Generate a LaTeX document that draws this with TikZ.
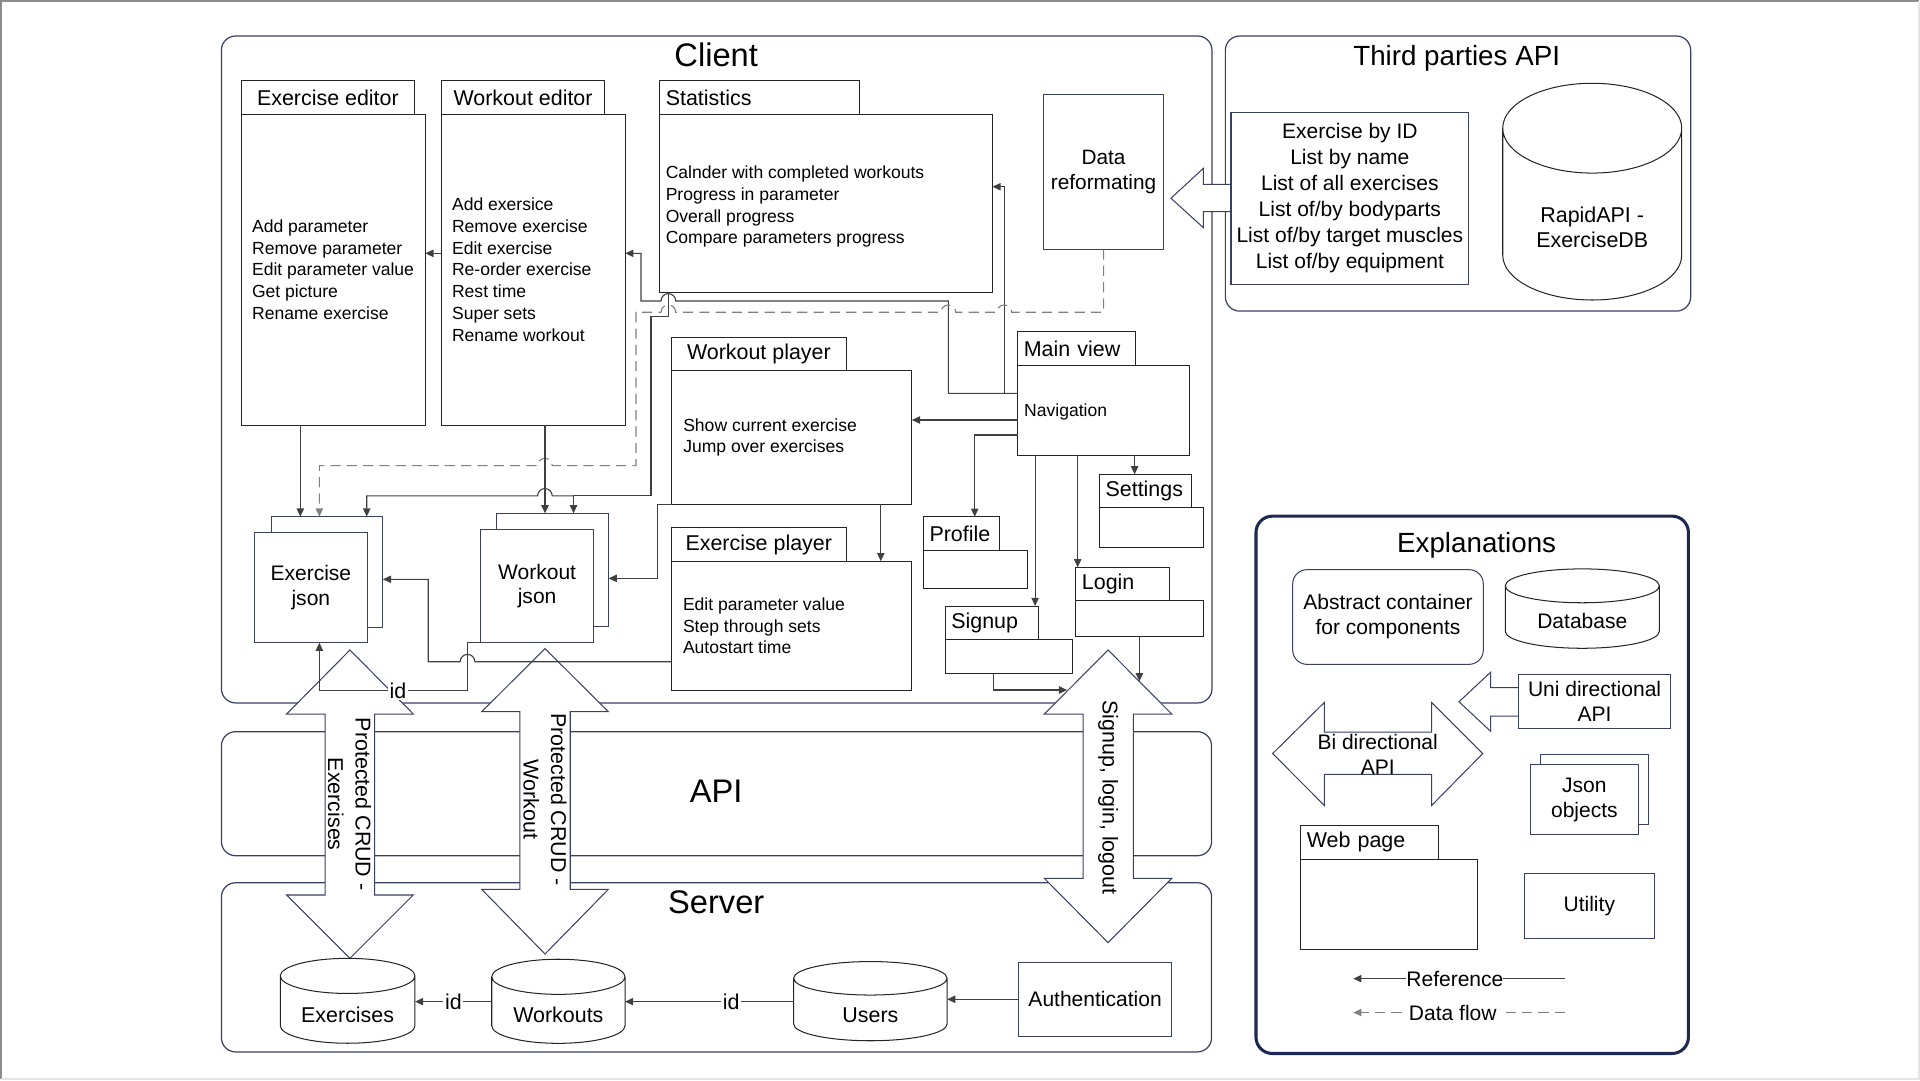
\documentclass[tikz,border=0pt]{standalone}
\usepackage{fontspec}
\setmainfont{Liberation Sans}
\usetikzlibrary{arrows.meta,positioning}

\definecolor{navy}{RGB}{58,64,98}
\definecolor{deepnavy}{RGB}{30,40,80}
\definecolor{boxline}{RGB}{36,36,40}
\definecolor{wire}{RGB}{64,64,64}
\definecolor{flow}{RGB}{128,128,128}

\newcommand{\fs}[2]{\fontsize{#1}{#2}\selectfont}
% cylinder outline round a named node: name, x radius, y radius
\newcommand{\dbcyl}[3]{%
  \draw[dbline] ([yshift=-#3]#1.north west) -- ([yshift=#3]#1.south west)
    arc[start angle=180,end angle=360,x radius=#2,y radius=#3]
    -- ([yshift=-#3]#1.north east) arc[start angle=0,end angle=360,x radius=#2,y radius=#3];}

\begin{document}
\begin{tikzpicture}[x=0.6pt,y=-0.6pt,>={Triangle[length=4pt,width=3.6pt]},
  every node/.style={inner sep=0pt,outer sep=0pt},
  container/.style={draw=navy,line width=0.6pt,rounded corners=7pt,anchor=north west},
  bigtitle/.style={anchor=base,font=\fs{16}{19}},
  midtitle/.style={anchor=base,font=\fs{13.6}{16}},
  tabl/.style={draw=boxline,line width=0.5pt,anchor=north west,minimum height=16.4pt,
    inner xsep=3pt,align=left,font=\fs{10.5}{12}},
  tabc/.style={draw=boxline,line width=0.5pt,anchor=north west,minimum height=16.4pt,
    font=\fs{10.5}{12}},
  pagebody/.style={draw=boxline,line width=0.5pt,anchor=north west},
  listtxt/.style={align=left,font=\fs{8.6}{10.7}},
  plainbox/.style={draw=navy,line width=0.5pt,anchor=north west,align=center,font=\fs{10.3}{12.2}},
  jsonbox/.style={plainbox,fill=white},
  dbbox/.style={rectangle,anchor=center},
  dbline/.style={draw=boxline,line width=0.5pt},
  dbtxt/.style={align=center,font=\fs{10.5}{12.2}},
  bigarrow/.style={draw=navy,fill=white,line width=0.5pt},
  arrtxt/.style={align=center,font=\fs{10.5}{13.5}},
  refline/.style={->,draw=wire,line width=0.55pt},
  flowline/.style={->,draw=flow,line width=0.55pt,dash pattern=on 5pt off 3pt},
  idlab/.style={fill=white,inner sep=0.8pt,font=\fs{10.5}{12}}]

  % page frame
  \useasboundingbox (0,0) rectangle (1568,882);
  \draw[black!45,line width=1pt] (1.2,880.8) -- (1.2,1) -- (1566.8,1);
  \draw[black!10,line width=1pt] (1566.8,1) -- (1566.8,880.8) -- (1.2,880.8);

  % containers
  \node[container,minimum width=485.4pt,minimum height=326.8pt] (client) at (180.8,29.4) {};
  \node[container,minimum width=228pt,minimum height=134.8pt] (third) at (1000.7,29.4) {};
  \node[container,minimum width=485.2pt,minimum height=60.8pt] (api) at (180.8,597.5) {};
  \node[container,minimum width=485.2pt,minimum height=82.9pt] (server) at (180.8,720.9) {};
  \node[container,draw=deepnavy,line width=1.5pt,rounded corners=8pt,
    minimum width=211.9pt,minimum height=263.3pt] (expl) at (1025.7,421.5) {};

  % big api arrows
  \draw[bigarrow] (285.8,530.8) -- (337.5,583.1) -- (306,583.1) -- (306,730.9) -- (337.5,730.9)
    -- (285.8,782.6) -- (234.1,730.9) -- (265.6,730.9) -- (265.6,583.1) -- (234.1,583.1) -- cycle;
  \draw[bigarrow] (445.1,529.7) -- (496.8,581.2) -- (465.7,581.2) -- (465.7,726.3) -- (496.8,726.3)
    -- (445.1,779.1) -- (393.4,726.3) -- (424.5,726.3) -- (424.5,581.2) -- (393.4,581.2) -- cycle;
  \draw[bigarrow] (904.9,530.8) -- (956.9,583.1) -- (925.5,583.1) -- (925.5,717.3) -- (956.9,717.3)
    -- (904.9,769.8) -- (852.9,717.3) -- (884.5,717.3) -- (884.5,583.1) -- (852.9,583.1) -- cycle;
  \draw[bigarrow] (1005.3,150.5) -- (982.7,150.5) -- (982.7,137.5) -- (956.3,161.9)
    -- (982.7,185.9) -- (982.7,172.9) -- (1005.3,172.9);
  \coordinate (sgarrL) at (871.5,563.5);
  \coordinate (sgarrR) at (930.5,556.4);

  % titles
  \node[bigtitle] (clienttitle) at (584.9,54.5) {Client};
  \node[midtitle] (thirdtitle) at (1189.6,53.1) {Third parties API};
  \node[bigtitle] (apititle) at (584.9,655.5) {API};
  \node[bigtitle] (servertitle) at (584.9,745.9) {Server};
  \node[midtitle] (expltitle) at (1205.9,451.5) {Explanations};

  % client pages
  \node[tabc,minimum width=84.7pt] (exedT) at (197.2,66.1) {Exercise editor};
  \node[pagebody,minimum width=90.1pt,minimum height=152.2pt] (exed) at (exedT.south west) {};
  \node[listtxt,right=5.2pt of exed.west] (exedtxt) {Add parameter\\Remove parameter\\Edit parameter value\\Get picture\\Rename exercise};

  \node[tabc,minimum width=80pt] (woedT) at (360.5,66.1) {Workout editor};
  \node[pagebody,minimum width=90.1pt,minimum height=152.2pt] (woed) at (woedT.south west) {};
  \node[listtxt,right=5.2pt of woed.west] (woedtxt) {Add exersice\\Remove exercise\\Edit exercise\\Re-order exercise\\Rest time\\Super sets\\Rename workout};

  \node[tabl,text width=91.8pt] (statT) at (538.7,66.1) {Statistics};
  \node[pagebody,minimum width=163.1pt,minimum height=87.4pt] (stat) at (statT.south west) {};
  \node[listtxt,right=3pt of stat.west,yshift=-1.5pt] (stattxt) {Calnder with completed workouts\\Progress in parameter\\Overall progress\\Compare parameters progress};

  \node[plainbox,minimum width=58.5pt,minimum height=76pt,font=\fs{10.2}{12.2}] (datar) at (852.5,77) {Data\\reformating};

  \node[tabc,minimum width=85.5pt] (wopT) at (548.5,275.5) {Workout player};
  \node[pagebody,minimum width=117.7pt,minimum height=65.3pt] (wop) at (wopT.south west) {};
  \node[listtxt,right=5.7pt of wop.west] (woptxt) {Show current exercise\\Jump over exercises};

  \node[tabc,minimum width=85.6pt] (expT) at (548.3,431) {Exercise player};
  \node[pagebody,minimum width=117.7pt,minimum height=63.2pt] (exp) at (expT.south west) {};
  \node[listtxt,right=5.7pt of exp.west] (exptxt) {Edit parameter value\\Step through sets\\Autostart time};

  \node[tabl,text width=51.5pt] (mainT) at (831.1,270.9) {Main view};
  \node[pagebody,minimum width=84.1pt,minimum height=44.1pt] (mainv) at (mainT.south west) {};
  \node[listtxt,right=3.2pt of mainv.west,yshift=-1pt] (maintxt) {Navigation};

  \node[tabl,text width=38.9pt] (setT) at (897.9,387.4) {Settings};
  \node[pagebody,minimum width=50.9pt,minimum height=19.3pt] (sett) at (setT.south west) {};
  \node[tabl,text width=31.3pt] (profT) at (754.1,422) {Profile};
  \node[pagebody,minimum width=50.9pt,minimum height=18.8pt] (prof) at (profT.south west) {};
  \node[tabl,text width=40pt] (loginT) at (878.6,463.3) {Login};
  \node[pagebody,minimum width=62.5pt,minimum height=17.3pt] (login) at (loginT.south west) {};
  \node[tabl,text width=39.8pt] (signT) at (771.9,494.9) {Signup};
  \node[pagebody,minimum width=62.5pt,minimum height=16.7pt] (sign) at (signT.south west) {};

  % json objects
  \node[jsonbox,minimum width=54.8pt,minimum height=54.2pt] (exjsb) at (221.4,421.9) {};
  \node[jsonbox,minimum width=55.4pt,minimum height=54.1pt] (exjs) at (207.7,434.7) {Exercise\\json};
  \node[jsonbox,minimum width=54.8pt,minimum height=55.6pt] (wojsb) at (405.7,419.2) {};
  \node[jsonbox,minimum width=55pt,minimum height=55.6pt] (wojs) at (392.8,432.3) {Workout\\json};

  % third parties
  \node[plainbox,minimum width=116.5pt,minimum height=84.3pt,font=\fs{10.3}{12.7}] (exlist) at (1005.3,91.7)
    {Exercise by ID\\List by name\\List of all exercises\\List of/by bodyparts\\List of/by target muscles\\List of/by equipment};
  \node[dbbox,minimum width=87.7pt,minimum height=106.2pt] (rapid) at (1300.3,156.5) {};
  \dbcyl{rapid}{43.85pt}{22pt}
  \node[dbtxt] (rapidtxt) at (1300.3,185.5) {RapidAPI -\\ExerciseDB};

  % server
  \node[dbbox,minimum width=66pt,minimum height=41.6pt] (exdb) at (283.9,817.3) {};
  \dbcyl{exdb}{33pt}{8.6pt}
  \node[dbtxt] (exdbtxt) at (283.9,829) {Exercises};
  \node[dbbox,minimum width=65.3pt,minimum height=41.2pt] (wodb) at (456,817.7) {};
  \dbcyl{wodb}{32.65pt}{8.6pt}
  \node[dbtxt] (wodbtxt) at (456,829) {Workouts};
  \node[dbbox,minimum width=75.2pt,minimum height=38.8pt] (usdb) at (710.8,817.6) {};
  \dbcyl{usdb}{37.6pt}{8.2pt}
  \node[dbtxt] (usdbtxt) at (710.8,829) {Users};
  \node[plainbox,minimum width=74.9pt,minimum height=36pt] (auth) at (831.9,786.1) {Authentication};

  % connectors in the client
  \draw[refline] (woed.west |- 0,206.9) -- (exed.east |- 0,206.9);
  \draw[refline] (mainv.west |- 0,321.2) -| (774.5,245.8) -- (551.8,245.8)
    arc[start angle=0,end angle=180,radius=3.6pt] -- (523.5,245.8) |- (woed.east |- 0,206.9);
  \draw[refline] (mainv.west |- 0,321.2) -| (820.2,152.5) -- (stat.east |- 0,152.5);
  \coordinate (statsplit) at (468.4,405);
  \draw[refline] (stat.south -| 545.8,0) |- (531.6,258.6) |- (statsplit) -- (wojsb.north -| statsplit);
  \draw[refline] (statsplit) -- (451,405) arc[start angle=0,end angle=180,radius=3.6pt]
    -- (299.5,405) -- (exjsb.north -| 299.5,0);
  \draw[flowline] (datar.south) |- (826.2,255) arc[start angle=0,end angle=180,radius=3.6pt]
    -- (780.5,255) arc[start angle=0,end angle=180,radius=3.6pt]
    -- (551.8,255) arc[start angle=0,end angle=180,radius=3.6pt]
    -- (519.4,255) |- (451,380.3) arc[start angle=0,end angle=180,radius=3.6pt]
    -- (260.8,380.3) -- (exjsb.north -| 260.8,0);
  \draw[refline] (exed.south -| 245.3,0) -- (exjsb.north -| 245.3,0);
  \draw[refline] (woed.south -| 445.1,0) -- (wojsb.north -| 445.1,0);
  \draw[refline] (wop.south west) -| (537.2,472.3) -- (wojsb.east |- 0,472.3);
  \draw[refline] (exp.west |- 0,540.4) -- (387.8,540.4) arc[start angle=0,end angle=180,radius=3.6pt]
    -- (349.7,540.4) |- (exjsb.east |- 0,473.1);
  \draw[refline] (wojs.south west) -| (381.8,564) -- node[idlab,pos=0.47] {id} (260.8,564)
    -- (exjs.south -| 260.8,0);
  \draw[refline] (mainv.west |- 0,343) -- (wop.east |- 0,343);
  \draw[refline] (mainv.west |- 0,355.2) -| (profT.north -| 796,0);
  \draw[refline] (mainv.south -| 845.3,0) -- (signT.north -| 845.3,0);
  \draw[refline] (mainv.south -| 880.1,0) -- (loginT.north -| 880.1,0);
  \draw[refline] (mainv.south -| 926.6,0) -- (setT.north -| 926.6,0);
  \draw[refline] (wop.south -| 719.3,0) -- (exp.north -| 719.3,0);
  \draw[refline] (sign.south -| 811.2,0) |- (sgarrL);
  \draw[refline] (login.south -| 930.5,0) -- (sgarrR);

  % connectors in the server
  \draw[refline] (wodb.west |- 0,818) -- node[idlab] {id} (exdb.east |- 0,818);
  \draw[refline] (usdb.west |- 0,818) -- node[idlab,pos=0.37] {id} (wodb.east |- 0,818);
  \draw[refline] (auth.west) -- (usdb.east |- auth.west);

  % arrow labels
  \node[arrtxt,rotate=-90] (crudex) at (285.4,656.8) {Protected CRUD -\\Exercises};
  \node[arrtxt,rotate=-90] (crudwo) at (445.1,653) {Protected CRUD -\\Workout};
  \node[arrtxt,rotate=-90] (authapi) at (905,651.3) {Signup, login, logout};

  % explanations
  \node[plainbox,rounded corners=7pt,minimum width=93.4pt,minimum height=46.4pt] (abst) at (1055.7,465.2)
    {Abstract container\\for components};
  \node[dbbox,minimum width=75.5pt,minimum height=38.9pt] (dbleg) at (1292.2,497) {};
  \dbcyl{dbleg}{37.75pt}{8.3pt}
  \node[dbtxt,font=\fs{10.3}{12}] (dblegtxt) at (1292.2,507.5) {Database};
  \draw[bigarrow] (1239.9,561.5) -- (1217.4,561.5) -- (1217.4,548.9) -- (1191.5,573.1)
    -- (1217.4,597.3) -- (1217.4,584.8) -- (1239.9,584.8);
  \node[plainbox,minimum width=74.8pt,minimum height=26.6pt] (unileg) at (1239.9,550.7) {Uni directional\\API};
  \draw[bigarrow] (1039.3,615.4) -- (1081.5,573.7) -- (1081.5,597.9) -- (1169.2,597.9) -- (1169.2,573.7)
    -- (1210.9,615.4) -- (1169.2,657.7) -- (1169.2,632.3) -- (1081.5,632.3) -- (1081.5,657.7) -- cycle;
  \node[align=center,font=\fs{10.3}{12.3}] (bileg) at (1125.1,616.2) {Bi directional\\API};
  \node[jsonbox,minimum width=53pt,minimum height=34.6pt] (jsonlegb) at (1257.7,616) {};
  \node[jsonbox,minimum width=52.9pt,minimum height=34.6pt] (jsonleg) at (1249.8,624.2) {Json\\objects};
  \node[tabl,text width=61.4pt] (webT) at (1062.2,674.3) {Web page};
  \node[pagebody,minimum width=86.8pt,minimum height=44.3pt] (web) at (webT.south west) {};
  \node[plainbox,minimum width=64pt,minimum height=32pt] (util) at (1244.6,713.1) {Utility};
  \coordinate (refA) at (1278,799.2);
  \coordinate (refB) at (1105.2,799.2);
  \coordinate (flowA) at (1278,826.9);
  \coordinate (flowB) at (1105.2,826.9);
  \draw[refline] (refA) -- node[idlab,inner sep=0pt,pos=0.52,font=\fs{10.3}{12}] {Reference} (refB);
  \draw[flowline] (flowA) -- node[idlab,inner xsep=2pt,pos=0.53,font=\fs{10.3}{12}] {Data flow} (flowB);

\end{tikzpicture}
\end{document}
